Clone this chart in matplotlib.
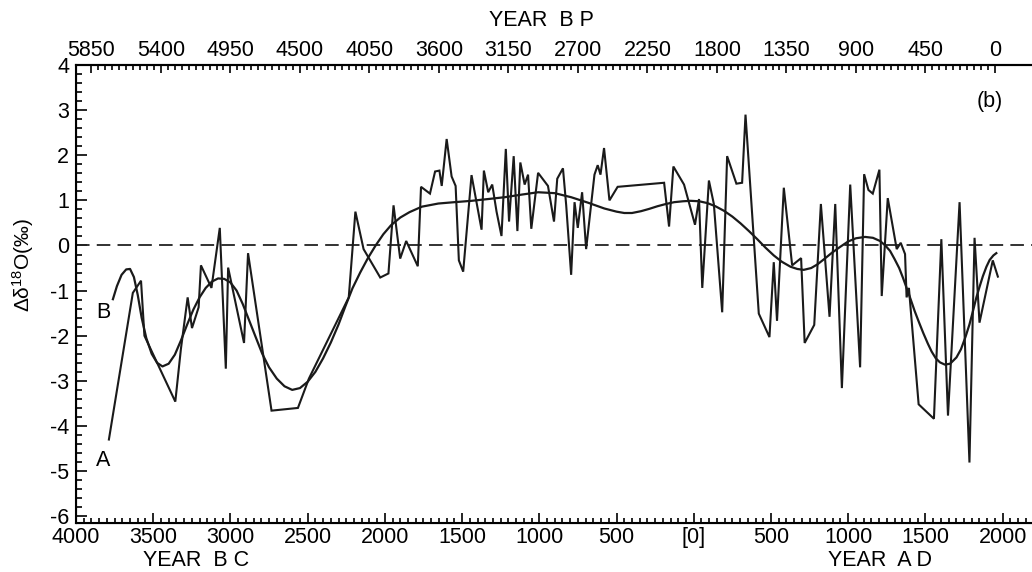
import matplotlib
matplotlib.use("Agg")
import matplotlib.pyplot as plt
import numpy as np
from matplotlib.ticker import FixedLocator, MultipleLocator

plt.rcParams['font.family'] = ['Liberation Sans', 'DejaVu Sans']
plt.rcParams['mathtext.fontset'] = 'custom'
plt.rcParams['mathtext.rm'] = 'Liberation Sans'
plt.rcParams['mathtext.it'] = 'Liberation Sans:italic'

# Series A: raw record (year, negative = BC)
years_a = [-3787, -3632, -3579, -3557, -3357, -3321, -3277, -3249, -3206, -3191,
           -3123, -3069, -3030, -3015, -2912, -2886, -2734, -2563, -2492, -2234,
           -2191, -2138, -2030, -1977, -1944, -1901, -1862, -1787, -1766, -1708,
           -1675, -1647, -1632, -1600, -1568, -1542, -1521, -1493, -1439, -1374,
           -1359, -1331, -1305, -1277, -1245, -1217, -1196, -1166, -1142, -1123,
           -1095, -1073, -1052, -1008, -944, -905, -884, -847, -826, -794,
           -772, -751, -723, -697, -643, -622, -604, -581, -546, -493,
           -192, -160, -132, -63, 8, 34, 55, 98, 130, 184,
           216, 276, 313, 335, 421, 490, 518, 539, 583, 637,
           695, 718, 780, 823, 879, 916, 959, 1013, 1077, 1103,
           1131, 1159, 1202, 1217, 1256, 1314, 1340, 1368, 1378, 1393,
           1456, 1555, 1603, 1646, 1721, 1785, 1818, 1850, 1936, 1969]
vals_a = [-4.3, -1.05, -0.78, -2.0, -3.46, -2.3, -1.15, -1.83, -1.37, -0.44,
          -0.94, 0.39, -2.73, -0.49, -2.16, -0.17, -3.66, -3.6, -2.95, -1.15,
          0.75, -0.08, -0.71, -0.62, 0.89, -0.29, 0.1, -0.46, 1.3, 1.15,
          1.64, 1.66, 1.32, 2.36, 1.53, 1.32, -0.33, -0.58, 1.56, 0.35,
          1.66, 1.18, 1.35, 0.75, 0.21, 2.14, 0.53, 1.98, 0.32, 1.84,
          1.35, 1.57, 0.37, 1.61, 1.32, 0.53, 1.48, 1.71, 0.89, -0.65,
          0.96, 0.39, 1.18, -0.08, 1.57, 1.78, 1.57, 2.16, 1.0, 1.3,
          1.39, 0.42, 1.75, 1.35, 0.46, 1.03, -0.94, 1.44, 0.92, -1.48,
          1.98, 1.37, 1.39, 2.9, -1.51, -2.03, -0.37, -1.67, 1.28, -0.44,
          -0.28, -2.16, -1.76, 0.92, -1.58, 0.92, -3.16, 1.35, -2.7, 1.58,
          1.23, 1.15, 1.68, -1.12, 1.05, -0.08, 0.06, -0.19, -1.15, -0.94,
          -3.52, -3.84, 0.14, -3.77, 0.96, -4.81, 0.17, -1.71, -0.33, -0.69]

# Series B: smoothed record
years_b = [-3761, -3735, -3705, -3675, -3650, -3625, -3600, -3575, -3545, -3510,
           -3475, -3440, -3400, -3360, -3320, -3280, -3240, -3200, -3160, -3120,
           -3080, -3040, -3000, -2960, -2920, -2880, -2840, -2794, -2750, -2700,
           -2650, -2600, -2550, -2500, -2450, -2400, -2350, -2300, -2256, -2210,
           -2160, -2110, -2060, -2010, -1960, -1900, -1840, -1761, -1654, -1550,
           -1439, -1330, -1224, -1110, -1008, -901, -794, -686, -579, -500,
           -450, -400, -342, -290, -235, -180, -127, -70, -20, 35,
           88, 140, 195, 250, 303, 357, 411, 465, 518, 570,
           626, 670, 712, 760, 800, 841, 895, 948, 1000, 1050,
           1109, 1160, 1206, 1240, 1271, 1300, 1330, 1355, 1378, 1405,
           1430, 1458, 1486, 1515, 1540, 1567, 1594, 1626, 1660, 1701,
           1730, 1760, 1785, 1808, 1830, 1850, 1872, 1895, 1916, 1940, 1959]
vals_b = [-1.19, -0.9, -0.65, -0.53, -0.52, -0.7, -1.1, -1.6, -2.05, -2.4,
          -2.6, -2.68, -2.62, -2.42, -2.1, -1.75, -1.42, -1.15, -0.94, -0.8,
          -0.73, -0.74, -0.82, -1.0, -1.3, -1.65, -2.0, -2.4, -2.7, -2.95,
          -3.12, -3.2, -3.16, -3.02, -2.8, -2.5, -2.15, -1.75, -1.35, -0.95,
          -0.6, -0.28, 0.0, 0.25, 0.45, 0.62, 0.74, 0.86, 0.93, 0.96,
          0.99, 1.03, 1.07, 1.13, 1.18, 1.16, 1.07, 0.95, 0.82, 0.75,
          0.72, 0.72, 0.76, 0.81, 0.87, 0.92, 0.96, 0.98, 0.99, 0.98,
          0.94, 0.87, 0.77, 0.64, 0.49, 0.32, 0.14, -0.05, -0.22, -0.36,
          -0.47, -0.52, -0.54, -0.5, -0.42, -0.31, -0.16, -0.03, 0.09, 0.16,
          0.19, 0.17, 0.1, 0.0, -0.12, -0.3, -0.5, -0.72, -0.94, -1.2,
          -1.45, -1.7, -1.94, -2.17, -2.35, -2.5, -2.59, -2.64, -2.62, -2.48,
          -2.3, -2.02, -1.75, -1.45, -1.15, -0.92, -0.68, -0.47, -0.32, -0.22, -0.17]

bottom_ticks = [-4000, -3500, -3000, -2500, -2000, -1500, -1000, -500, 0, 500, 1000, 1500, 2000]
bottom_labels = ['4000', '3500', '3000', '2500', '2000', '1500', '1000', '500', '[0]',
                 '500', '1000', '1500', '2000']
top_ticks_bp = [5850, 5400, 4950, 4500, 4050, 3600, 3150, 2700, 2250, 1800, 1350, 900, 450, 0]

FS = 15.5
W, H = 1032, 572
fig = plt.figure(figsize=(W / 100, H / 100), dpi=100)
left, right, top, bottom = 76, 1032, 65, 523
ax = fig.add_axes([left / W, 1 - bottom / H, (right - left) / W, (bottom - top) / H])

XMIN, XMAX = -4000, 2190
ax.set_xlim(XMIN, XMAX)
ax.set_ylim(-6.15, 4.0)

ax.axhline(0, color='#222222', lw=1.3, dashes=(7.5, 4))
ax.plot(years_a, vals_a, color='#1a1a1a', lw=1.5, solid_joinstyle='miter')
ax.plot(years_b, vals_b, color='#1a1a1a', lw=1.6)

ax.spines['right'].set_visible(False)
for s in ['left', 'bottom', 'top']:
    ax.spines[s].set_linewidth(1.5)

ax.set_xticks(bottom_ticks)
ax.set_xticklabels(bottom_labels)
ax.xaxis.set_minor_locator(MultipleLocator(50))
ax.set_yticks(range(-6, 5))
ax.set_yticklabels([str(v) for v in range(-6, 5)])
ax.yaxis.set_minor_locator(MultipleLocator(0.2))
ax.tick_params(axis='both', which='both', direction='in', labelsize=FS, width=1.2)
ax.tick_params(axis='x', which='major', length=7, pad=3)
ax.tick_params(axis='x', which='minor', length=3.5)
ax.tick_params(axis='y', which='major', length=8, pad=5)
ax.tick_params(axis='y', which='minor', length=4)
ax.tick_params(top=False, right=False, which='both')

# Top axis: years BP (BP = 1950 - year)
ax2 = ax.twiny()
ax2.set_xlim(1950 - XMIN, 1950 - XMAX)
ax2.spines['right'].set_visible(False)
ax2.spines['top'].set_linewidth(1.5)
ax2.xaxis.set_major_locator(FixedLocator(top_ticks_bp))
ax2.set_xticklabels([str(v) for v in top_ticks_bp])
ax2.xaxis.set_minor_locator(FixedLocator(list(range(0, 5851, 45))))
ax2.tick_params(axis='x', which='both', direction='in', labelsize=FS, width=1.2)
ax2.tick_params(axis='x', which='major', length=6, pad=3)
ax2.tick_params(axis='x', which='minor', length=3.5)

fig.text(541 / W, 1 - 20 / H, 'YEAR  B P', ha='center', va='center', fontsize=FS)
fig.text(196 / W, 1 - 560 / H, 'YEAR  B C', ha='center', va='center', fontsize=FS)
fig.text(880 / W, 1 - 561 / H, 'YEAR  A D', ha='center', va='center', fontsize=FS)
fig.text(23 / W, 1 - 265 / H, r'Δδ$^{18}$O(‰)', ha='center', va='center',
         rotation=90, fontsize=15)
fig.text(990 / W, 1 - 102 / H, '(b)', ha='center', va='center', fontsize=FS)
fig.text(103 / W, 1 - 312 / H, 'B', ha='center', va='center', fontsize=FS)
fig.text(103 / W, 1 - 461 / H, 'A', ha='center', va='center', fontsize=FS)

fig.savefig('out.png', dpi=100)
